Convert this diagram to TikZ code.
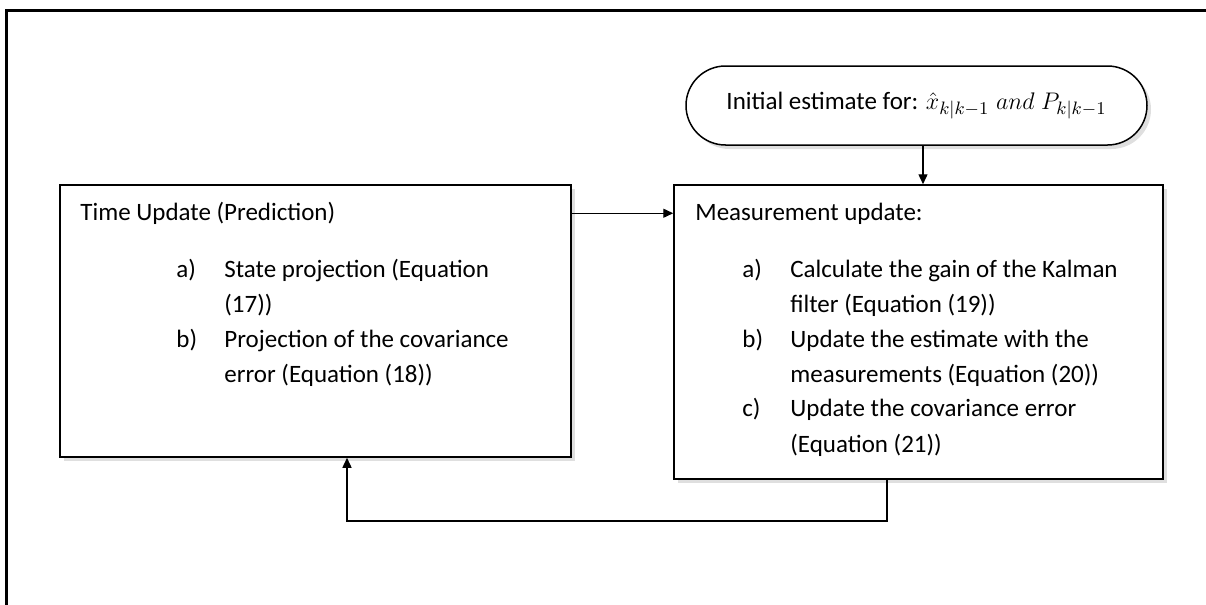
\documentclass[tikz,border=0pt]{standalone}
\usepackage{fontspec}
\setmainfont{Carlito}
\usetikzlibrary{positioning,shapes.misc,shadows,arrows.meta}

\tikzset{
  block/.style={draw, line width=0.75pt, fill=white, inner sep=0pt,
    drop shadow={opacity=0.25, shadow xshift=2pt, shadow yshift=-2pt}},
  startbox/.style={block, rounded rectangle},
  link/.style={line width=0.7pt, -{Triangle[length=5pt,width=4.5pt]}},
  txt/.style={inner sep=0pt, anchor=base west}
}

\begin{document}
\begin{tikzpicture}[x=0.5pt, y=-0.5pt, font=\fontsize{12.5}{17.5}\selectfont]
        \useasboundingbox (0,0) rectangle (1206,605);
        \clip (0,0) rectangle (1206,605);

        % Frame
        \draw[line width=1.5pt] (6,620) |- (1220,10.5);

        % Boxes
        \node[startbox, minimum width=230.5pt, minimum height=39.5pt] (init) at (916.5,105.5)
          {Initial estimate for: $\hat{x}_{k|k-1}\;and\;P_{k|k-1}$};
        \node[block, minimum width=255.5pt, minimum height=136pt] (tu) at (315.5,321) {};
        \node[block, minimum width=244.5pt, minimum height=147pt] (mu) at (918.5,332) {};

        % Time update text
        \node[txt] (tutitle) at (80,220) {Time Update (Prediction)};
        \node[txt] (tulist) at (176,277) {\begin{tabular}[t]{@{}p{24pt}@{}l@{}}
          a) & State projection (Equation\\
             & (17))\\
          b) & Projection of the covariance\\
             & error (Equation (18))
        \end{tabular}};

        % Measurement update text
        \node[txt] (mutitle) at (695,220) {Measurement update:};
        \node[txt] (mulist) at (742,277) {\begin{tabular}[t]{@{}p{24pt}@{}l@{}}
          a) & Calculate the gain of the Kalman\\
             & filter (Equation (19))\\
          b) & Update the estimate with the\\
             & measurements (Equation (20))\\
          c) & Update the covariance error\\
             & (Equation (21))
        \end{tabular}};

        % Connectors
        \draw[link] ([xshift=3.25pt]init.south) -- ([xshift=3.25pt]init.south |- mu.north);
        \draw[link] ([yshift=-14.5pt]tu.north east) -- ([yshift=-14.5pt]tu.north east -| mu.west);
        \coordinate (loopR) at (887,521);
        \coordinate (loopL) at (347,521);
        \draw[link] (loopR |- mu.south) -- (loopR) -- (loopL) -- (loopL |- tu.south);
      \end{tikzpicture}
\end{document}
